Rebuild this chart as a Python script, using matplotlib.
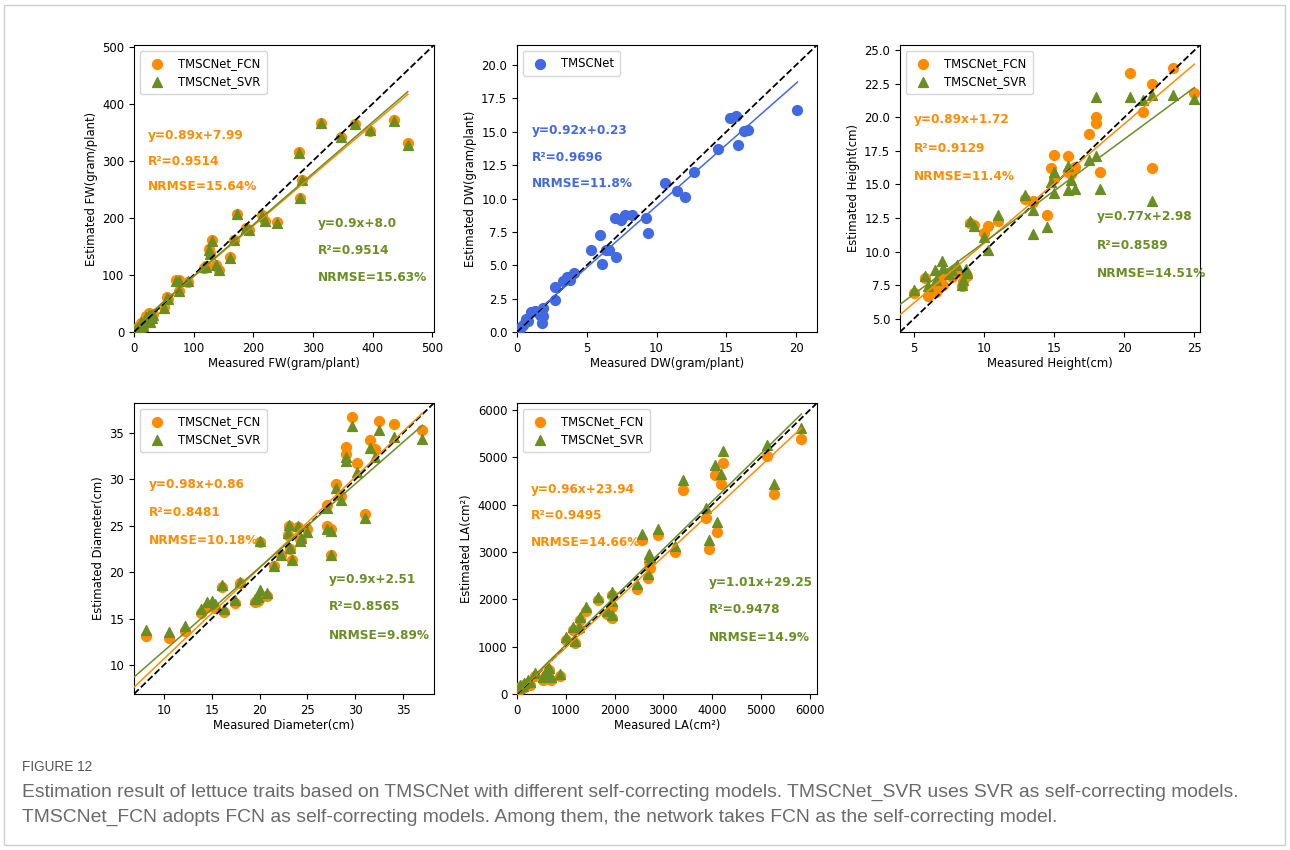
import numpy as np
import matplotlib
matplotlib.use("Agg")
import matplotlib.pyplot as plt
from matplotlib.patches import Rectangle

# colours
c_fcn = '#ff8c00'
c_svr = '#6b8e23'
c_net = '#4169e1'

# FW (gram/plant)
fw_meas = [4, 8, 12, 15, 18, 20, 22, 25, 27, 28, 30, 32, 51, 55, 57, 71, 76, 75, 91, 117, 120, 125, 127, 130,
           137, 143, 161, 168, 173, 187, 193, 215, 219, 240, 276, 279, 282, 314, 347, 371, 396, 436, 459]
fw_fcn = [6, 10, 15, 8, 22, 28, 18, 33, 20, 30, 25, 32, 43, 62, 58, 91, 91, 72, 88, 113, 115, 146, 139, 162,
          117, 108, 132, 162, 207, 182, 178, 205, 194, 192, 315, 235, 266, 366, 342, 364, 352, 371, 331]
fw_svr = [5, 9, 17, 10, 20, 26, 20, 30, 18, 29, 24, 30, 42, 60, 57, 90, 90, 72, 89, 114, 114, 144, 137, 160,
          118, 108, 130, 162, 206, 183, 178, 204, 195, 191, 314, 235, 266, 367, 341, 364, 354, 370, 328]

# DW (gram/plant)
dw_meas = [0.12, 0.26, 0.43, 0.62, 0.78, 1.02, 1.26, 1.62, 1.78, 1.85, 1.85, 2.69, 2.73, 3.28, 3.59, 3.83,
           4.06, 5.3, 5.94, 6.09, 6.37, 6.6, 7.08, 7.04, 7.44, 7.73, 8.27, 9.22, 9.39, 10.58, 11.48, 12.03,
           12.72, 14.38, 15.24, 15.66, 15.81, 16.3, 16.52, 20.1]
dw_est = [0.17, 0.35, 0.55, 0.97, 0.8, 1.47, 1.59, 1.29, 0.67, 1.22, 1.79, 2.36, 3.35, 3.85, 4.15, 3.9,
          4.4, 6.14, 7.3, 5.07, 6.14, 6.14, 5.59, 8.55, 8.42, 8.75, 8.75, 8.57, 7.45, 11.16, 10.53, 10.11,
          12.02, 13.71, 16.0, 16.2, 14.04, 15.03, 15.13, 16.64]

# Height (cm)
h_meas = [5.0, 5.8, 6.0, 6.5, 6.6, 7.0, 7.1, 7.5, 7.7, 8.1, 8.4, 8.5, 8.7, 8.8, 9.0, 9.3, 10.0, 10.3, 11.0,
          12.9, 13.5, 13.5, 14.5, 14.8, 15.0, 15.0, 16.0, 16.0, 16.2, 16.5, 17.5, 18.0, 18.0, 18.3, 20.4,
          21.3, 22.0, 22.0, 23.5, 25.0]
h_fcn = [6.9, 8.0, 6.7, 7.2, 7.0, 8.2, 7.5, 8.4, 8.1, 8.5, 7.4, 7.8, 8.3, 8.2, 12.1, 12.0, 11.4, 11.9, 12.3,
         13.9, 13.7, 13.8, 12.7, 16.2, 17.2, 15.4, 17.1, 15.9, 15.8, 16.3, 18.8, 20.0, 19.6, 15.9, 23.3,
         20.4, 22.5, 16.2, 23.7, 21.8]
h_svr = [7.1, 8.2, 7.4, 8.6, 7.9, 9.3, 8.8, 8.3, 8.6, 9.0, 7.5, 7.9, 8.7, 8.4, 12.3, 11.9, 11.1, 10.1, 12.75,
         14.2, 13.1, 11.3, 11.8, 15.2, 15.9, 14.4, 16.4, 14.6, 15.3, 14.7, 16.8, 21.5, 17.1, 14.7, 21.5,
         21.3, 21.7, 13.8, 21.7, 21.4]

# Diameter (cm)
d_meas = [8.1, 10.5, 12.2, 13.9, 14.5, 15.0, 15.4, 16.1, 16.3, 17.4, 18.0, 19.5, 19.8, 20.0, 20.0, 20.8,
          21.5, 22.2, 23.0, 23.1, 23.2, 23.4, 24.0, 24.2, 24.3, 25.0, 27.0, 27.0, 27.5, 27.5, 28.0, 28.5,
          29.0, 29.0, 29.6, 30.2, 31.0, 31.5, 32.0, 32.5, 34.0, 37.0]
d_fcn = [13.1, 12.9, 13.7, 15.6, 16.3, 16.4, 16.2, 18.4, 15.7, 16.7, 18.8, 16.8, 16.9, 17.2, 23.3, 17.4,
         20.7, 21.9, 24.0, 25.0, 22.5, 21.3, 24.9, 23.6, 23.5, 24.6, 25.0, 27.2, 24.7, 21.8, 29.5, 28.2,
         33.5, 32.7, 36.7, 31.8, 26.3, 34.2, 33.2, 36.3, 35.9, 35.3]
d_svr = [13.8, 13.6, 14.2, 16.0, 16.8, 16.9, 16.6, 18.6, 16.0, 17.0, 18.9, 17.1, 17.3, 18.1, 23.4, 17.8,
         20.7, 21.9, 24.2, 25.1, 22.6, 21.3, 25.0, 23.4, 23.7, 24.3, 24.6, 26.9, 24.4, 21.8, 29.1, 27.8,
         32.4, 32.0, 35.7, 30.8, 25.8, 33.4, 32.4, 35.3, 34.5, 34.3]

# LA (cm²)
la_meas = [34, 60, 116, 150, 218, 272, 374, 524, 600, 646, 660, 700, 878, 1000, 1150, 1190, 1272, 1293,
           1422, 1667, 1850, 1952, 1952, 1939, 2463, 2565, 2680, 2700, 2721, 2884, 3245, 3401, 3871, 3946,
           4095, 4061, 4184, 4231, 5116, 5272, 5830]
la_fcn = [85, 150, 121, 200, 227, 200, 384, 298, 400, 313, 512, 300, 370, 1151, 1350, 1080, 1365, 1564,
          1755, 1983, 1684, 1613, 1848, 2090, 2218, 3248, 2452, 2800, 2665, 3355, 2999, 4314, 3724, 3056,
          3426, 4620, 4435, 4883, 5025, 4222, 5380]
la_svr = [130, 180, 170, 230, 290, 250, 450, 360, 480, 380, 560, 350, 420, 1200, 1420, 1120, 1420, 1620,
          1830, 2060, 1760, 1680, 1960, 2150, 2320, 3376, 2540, 2960, 2900, 3497, 3127, 4527, 3930, 3248,
          3639, 4833, 4648, 5131, 5252, 4435, 5615]

# fitted lines and metrics as printed in the figure
fw_fit = [(0.89, 7.99), (0.9, 8.0)]
fw_txt = [["y=0.89x+7.99", "R²=0.9514", "NRMSE=15.64%"], ["y=0.9x+8.0", "R²=0.9514", "NRMSE=15.63%"]]
dw_fit = (0.92, 0.23)
dw_txt = ["y=0.92x+0.23", "R²=0.9696", "NRMSE=11.8%"]
h_fit = [(0.89, 1.72), (0.77, 2.98)]
h_txt = [["y=0.89x+1.72", "R²=0.9129", "NRMSE=11.4%"], ["y=0.77x+2.98", "R²=0.8589", "NRMSE=14.51%"]]
d_fit = [(0.98, 0.86), (0.9, 2.51)]
d_txt = [["y=0.98x+0.86", "R²=0.8481", "NRMSE=10.18%"], ["y=0.9x+2.51", "R²=0.8565", "NRMSE=9.89%"]]
la_fit = [(0.96, 23.94), (1.01, 29.25)]
la_txt = [["y=0.96x+23.94", "R²=0.9495", "NRMSE=14.66%"], ["y=1.01x+29.25", "R²=0.9478", "NRMSE=14.9%"]]

caption = ['Estimation result of lettuce traits based on TMSCNet with different self-correcting models. '
           'TMSCNet_SVR uses SVR as self-correcting models.',
           'TMSCNet_FCN adopts FCN as self-correcting models. Among them, the network takes FCN as the '
           'self-correcting model.']

FS = 8.4
MS = 50
plt.rcParams['font.size'] = FS
plt.rcParams['font.family'] = ['DejaVu Sans']

W, H = 1290, 850
fig = plt.figure(figsize=(W / 100, H / 100), dpi=100)


def make_ax(l, t, r, b):
    return fig.add_axes([l / W, 1 - b / H, (r - l) / W, (b - t) / H])


def add_text(ax, x, ys, lines, color):
    for y, s in zip(ys, lines):
        ax.text(x, y, s, transform=ax.transAxes, color=color, fontweight='bold',
                fontsize=8.7, va='center', ha='left')


def two_model(ax, xm, yf, ys, fits, txts, lim, ticks, xlabel, ylabel, pos1, pos2):
    ax.scatter(xm, yf, s=MS, c=c_fcn, marker='o', label='TMSCNet_FCN', zorder=3)
    ax.scatter(xm, ys, s=MS, c=c_svr, marker='^', label='TMSCNet_SVR', zorder=4)
    ax.plot(lim, lim, 'k--', lw=1.3, zorder=5)
    # fit lines run from the left edge of the axes to the largest measured value
    xx = np.array([lim[0], max(xm)])
    for (k, b), col in zip(fits, [c_fcn, c_svr]):
        ax.plot(xx, k * xx + b, color=col, lw=1.1, zorder=5)
    ax.set_xlim(lim)
    ax.set_ylim(lim)
    ax.set_xticks(ticks[0])
    ax.set_yticks(ticks[1])
    ax.set_xlabel(xlabel, labelpad=2)
    ax.set_ylabel(ylabel, labelpad=3)
    ax.legend(loc='upper left', fontsize=FS, borderpad=0.5)
    add_text(ax, pos1[0], pos1[1], txts[0], c_fcn)
    add_text(ax, pos2[0], pos2[1], txts[1], c_svr)


# FW
ax1 = make_ax(134, 45, 434, 332)
two_model(ax1, fw_meas, fw_fcn, fw_svr, fw_fit, fw_txt, (0, 503),
          (np.arange(0, 501, 100), np.arange(0, 501, 100)),
          'Measured FW(gram/plant)', 'Estimated FW(gram/plant)',
          (0.047, [0.686, 0.593, 0.506]), (0.612, [0.379, 0.283, 0.19]))

# DW
ax2 = make_ax(517, 45, 817, 332)
lim2 = (0, 21.5)
ax2.scatter(dw_meas, dw_est, s=MS, c=c_net, label='TMSCNet', zorder=3)
ax2.plot(lim2, lim2, 'k--', lw=1.3, zorder=5)
xx = np.array([lim2[0], max(dw_meas)])
ax2.plot(xx, dw_fit[0] * xx + dw_fit[1], color=c_net, lw=1.1, zorder=5)
ax2.set_xlim(lim2)
ax2.set_ylim(lim2)
ax2.set_xticks([0, 5, 10, 15, 20])
ax2.set_yticks(np.arange(0, 20.1, 2.5))
ax2.yaxis.set_major_formatter(matplotlib.ticker.FormatStrFormatter('%.1f'))
ax2.set_xlabel('Measured DW(gram/plant)', labelpad=2)
ax2.set_ylabel('Estimated DW(gram/plant)', labelpad=3)
ax2.legend(loc='upper left', fontsize=FS, borderpad=0.5)
add_text(ax2, 0.049, [0.701, 0.609, 0.516], dw_txt, c_net)

# Height
ax3 = make_ax(900, 45, 1200, 332)
two_model(ax3, h_meas, h_fcn, h_svr, h_fit, h_txt, (4.0, 25.4),
          ([5, 10, 15, 20, 25], np.arange(5, 25.1, 2.5)),
          'Measured Height(cm)', 'Estimated Height(cm)',
          (0.047, [0.739, 0.640, 0.541]), (0.656, [0.403, 0.303, 0.205]))
ax3.yaxis.set_major_formatter(matplotlib.ticker.FormatStrFormatter('%.1f'))

# Diameter
ax4 = make_ax(134, 403, 434, 694)
two_model(ax4, d_meas, d_fcn, d_svr, d_fit, d_txt, (6.9, 38.2),
          ([10, 15, 20, 25, 30, 35], [10, 15, 20, 25, 30, 35]),
          'Measured Diameter(cm)', 'Estimated Diameter(cm)',
          (0.051, [0.72, 0.623, 0.527]), (0.651, [0.394, 0.3, 0.2]))

# LA
ax5 = make_ax(517, 403, 817, 694)
two_model(ax5, la_meas, la_fcn, la_svr, la_fit, la_txt, (0, 6150),
          (np.arange(0, 6001, 1000), np.arange(0, 6001, 1000)),
          'Measured LA(cm²)', 'Estimated LA(cm²)',
          (0.047, [0.704, 0.615, 0.52]), (0.641, [0.383, 0.291, 0.195]))

# caption, font size fitted to the width of the printed caption
cap_font = ['Liberation Sans Narrow', 'Liberation Sans', 'DejaVu Sans']
renderer = fig.canvas.get_renderer()
t0 = fig.text(22 / W, 1 - 767 / H, 'FIGURE 12', fontsize=9, color='#555555', va='center',
              family=cap_font)
t0.set_fontsize(9 * 70 / t0.get_window_extent(renderer).width)
t1 = fig.text(22 / W, 1 - 792 / H, caption[0], fontsize=13, color='#6a6a6a', va='center',
              family=cap_font)
fs_cap = 13 * 1216 / t1.get_window_extent(renderer).width
t1.set_fontsize(fs_cap)
fig.text(22 / W, 1 - 817 / H, caption[1], fontsize=fs_cap, color='#6a6a6a', va='center',
         family=cap_font)

fig.patches.append(Rectangle((4 / W, 5 / H), 1281 / W, 840 / H, transform=fig.transFigure,
                             fill=False, edgecolor='#cfcfcf', lw=1))

fig.savefig('out.png', dpi=100)
